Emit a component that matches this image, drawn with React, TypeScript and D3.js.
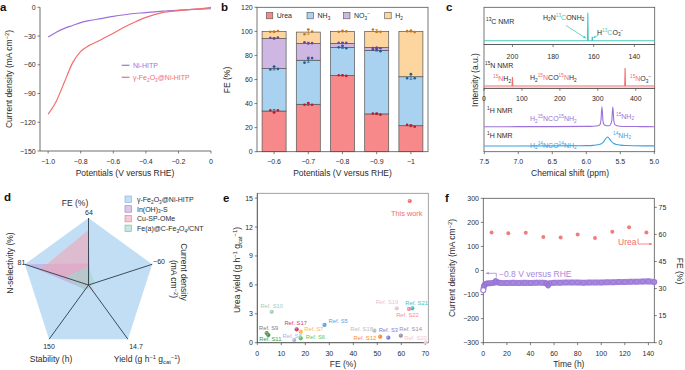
import React from 'react';
import * as d3 from 'd3';

const FONT = '"Liberation Sans", Arial, Helvetica, sans-serif';
const INK = '#2b2b2b';
const AXIS = '#4a4a4a';

// ---------- a: LSV curves
const lsvPotential = [-1.0, -0.95, -0.9, -0.85, -0.8, -0.75, -0.7, -0.6, -0.5, -0.4, -0.3, -0.2, -0.1, 0];
const lsvNiHitp = [-31, -26, -22, -19, -16, -14, -12.5, -9.5, -7, -5.5, -4, -3, -2.2, -1.5];
const lsvFe2o3 = [-111.5, -98, -78, -58, -46, -40, -36, -27, -18, -10.5, -5.5, -3.5, -2, 0];
const aXTicks = [-1.0, -0.8, -0.6, -0.4, -0.2, 0];
const aYTicks = [0, -30, -60, -90, -120, -150];

// ---------- b: FE stacked bars
const bPotentials = ['−0.6', '−0.7', '−0.8', '−0.9', '−1'];
const feUrea = [33.8, 39.4, 63.3, 31.4, 21.6];
const feNH3 = [35.3, 36.6, 23.3, 52.8, 40.7];
const feNO3 = [25, 13.9, 3.4, 2.4, 0];
const feH2 = [5.7, 9.5, 10, 13.4, 37.7];
const repUrea = [[34.5, 32.5, 34.5], [39, 40.5, 39], [63.5, 63.5, 63], [31.8, 31.6, 30.8], [22.3, 21.8, 20.7]];
const repNH3 = [[68.3, 70.8, 68.8], [74, 77.5, 77.8], [86.7, 88, 86], [85, 85.4, 83.5], [61, 64.5, 61]];
const repNO3 = [[94.7, 94, 94.8], [91, 90, 90.2], [90.5, 90.6, 90.4], [86.2, 86.6, 86], []];
const repH2 = [[99.6, 99.6, 100.3], [97.6, 101.5, 99.8], [99.6, 100.4, 100], [101.6, 99.6, 99.6], [100.2, 100.6, 99.4]];
const bYTicks = [0, 20, 40, 60, 80, 100, 120];

// ---------- c: NMR spectra
const c13Ppm = [214, 163.1, 162.9, 162.7, 160.9, 160.7, 160.5, 130];
const c13Int = [0, 0, 1, 0, 0, 0.14, 0, 0];
const n15Ppm = [0, 74, 75, 76, 371, 372, 373, 450];
const n15Int = [0, 0, 0.5, 0, 0, 1, 0, 0];
const h1Ppm15 = [7.5, 6.5, 6.0, 5.9, 5.83, 5.8, 5.785, 5.77, 5.755, 5.74, 5.71, 5.69, 5.665, 5.645, 5.625, 5.61, 5.595, 5.58, 5.55, 5.5, 5.4, 5.2, 5.0];
const h1Int15 = [0, 0.005, 0.015, 0.025, 0.05, 0.1, 0.3, 1, 0.3, 0.1, 0.05, 0.045, 0.05, 0.1, 0.3, 1, 0.3, 0.1, 0.05, 0.025, 0.012, 0.005, 0];
const h1Ppm14 = [7.5, 6.5, 6.2, 6.0, 5.9, 5.83, 5.78, 5.75, 5.72, 5.69, 5.66, 5.63, 5.6, 5.55, 5.5, 5.4, 5.3, 5.15, 5.0];
const h1Int14 = [0, 0.01, 0.02, 0.04, 0.07, 0.13, 0.25, 0.42, 0.75, 1, 0.8, 0.5, 0.3, 0.16, 0.1, 0.05, 0.03, 0.015, 0.01];
const c13Ticks = [200, 180, 160, 140];
const n15Ticks = [0, 100, 200, 300, 400];
const h1Ticks = [7.5, 7.0, 6.5, 6.0, 5.5, 5.0];

// ---------- d: radar (FE, current density, yield, stability, N-selectivity)
const radarMax = [64, 60, 14.7, 150, 81];
const radarHitp = [64, 60, 14.7, 150, 81];
const radarInOH = [20.5, 1.8, 0.7, 12, 81];
const radarCuSP = [52.5, 1.8, 2.2, 4.5, 61];
const radarFeCNT = [18, 6, 0.6, 15, 30];

// ---------- e: yield vs FE
const refNames = ['This work', 'Ref. S10', 'Ref. S17', 'Ref. S7', 'Ref. S5', 'Ref. S9', 'Ref. S11', 'Ref. S8', 'Ref. S6', 'Ref. S18', 'Ref. S3', 'Ref. S12', 'Ref. S14', 'Ref. S20', 'Ref. S19', 'Ref. S21', 'Ref. S22'];
const refFE = [63.5, 6.0, 16.4, 18.1, 28.0, 3.9, 4.6, 15.4, 18.1, 48.8, 54.6, 51.2, 59.8, 70.2, 58.1, 64.6, 63.2];
const refYield = [14.7, 3.2, 1.39, 1.14, 1.84, 1.0, 0.8, 0.28, 0.45, 1.25, 0.52, 0.62, 0.73, 0.02, 3.57, 3.57, 3.5];
const refColors = ['#f26b6b', '#a9ccb9', '#d33a68', '#ffb347', '#5aa2e3', '#8c7b6b', '#2e9e3a', '#a9b2e6', '#5cc85c', '#bdbdbd', '#7a7ee0', '#ff8a2a', '#9d8cab', '#f1c6d1', '#eac3d4', '#3cbfc8', '#f18e9d'];
const eXTicks = [0, 10, 20, 30, 40, 50, 60, 70];
const eYTicks = [0, 3, 6, 9, 12, 15];

// ---------- f: stability
const cdTime = [0, 0.5, 1, 2, 3, 5, 7.5, 10, 10.5, 12.5, 15, 20, 25, 30, 35, 40, 45, 50, 53, 54, 55, 56, 60, 65, 70, 75, 80, 85, 90, 95, 100, 105, 110, 115, 120, 125, 130, 135, 140, 145];
const cdValue = [-82, -66, -60, -56, -54, -53, -52, -50, -44, -50, -52, -52, -51, -52, -51, -52, -51, -51, -52, -56, -62, -53, -51, -51, -50, -50, -50, -51, -50, -50, -50, -49, -49, -48, -48, -47, -47, -46, -45, -48];
const feTime = [7, 21.2, 36, 50.9, 65.6, 80, 94.7, 109.4, 123.6, 138.3];
const feStab = [61.1, 60.6, 60.9, 58.5, 58.3, 59.9, 58.0, 61.5, 63.9, 61.1];
const fXTicks = [0, 20, 40, 60, 80, 100, 120, 140];
const fYTicks = [300, 200, 100, 0, -100, -200, -300];
const fFETicks = [0, 15, 30, 45, 60, 75];

// ---------- helpers
type Part = { t: string; s?: 'sub' | 'sup'; c?: string };
const n = (t: string, c?: string): Part => ({ t, c });
const lo = (t: string, c?: string): Part => ({ t, s: 'sub', c });
const hi = (t: string, c?: string): Part => ({ t, s: 'sup', c });

const minus = (v: number, d = 0) => (v < 0 ? '−' : '') + Math.abs(v).toFixed(d);

function Rich({ x = 0, y = 0, parts, size = 7, anchor = 'start', fill = INK, transform, weight }: any) {
  let cur = 0;
  return (
    <text x={x} y={y} fontSize={size} textAnchor={anchor} fill={fill} transform={transform} fontWeight={weight}>
      {parts.map((p: Part, i: number) => {
        const target = p.s === 'sub' ? size * 0.28 : p.s === 'sup' ? -size * 0.38 : 0;
        const dy = target - cur;
        cur = target;
        return (
          <tspan key={i} dy={dy} fontSize={p.s ? size * 0.68 : size} fill={p.c}>
            {p.t}
          </tspan>
        );
      })}
    </text>
  );
}

function XTicks({ scale, values, y, fmt, labelY, len = 2.5 }: any) {
  return (
    <g>
      {values.map((v: number) => (
        <g key={v}>
          <line x1={scale(v)} x2={scale(v)} y1={y} y2={y + len} stroke={AXIS} strokeWidth={0.7} />
          <text x={scale(v)} y={labelY} fontSize={7} textAnchor="middle" fill={INK}>
            {fmt(v)}
          </text>
        </g>
      ))}
    </g>
  );
}

function YTicks({ scale, values, x, fmt, side = 'left', len = 2.5 }: any) {
  const s = side === 'left' ? -1 : 1;
  return (
    <g>
      {values.map((v: number) => (
        <g key={v}>
          <line x1={x} x2={x + s * len} y1={scale(v)} y2={scale(v)} stroke={AXIS} strokeWidth={0.7} />
          <text x={x + s * (len + 1.8)} y={scale(v) + 2.5} fontSize={7} textAnchor={side === 'left' ? 'end' : 'start'} fill={INK}>
            {fmt(v)}
          </text>
        </g>
      ))}
    </g>
  );
}

function Arrow({ x1, y1, x2, y2, color, head = 3 }: any) {
  const a = Math.atan2(y2 - y1, x2 - x1);
  const p1 = [x2 - head * Math.cos(a - 0.45), y2 - head * Math.sin(a - 0.45)];
  const p2 = [x2 - head * Math.cos(a + 0.45), y2 - head * Math.sin(a + 0.45)];
  return (
    <g>
      <line x1={x1} y1={y1} x2={x2} y2={y2} stroke={color} strokeWidth={0.8} />
      <polygon points={`${x2},${y2} ${p1[0]},${p1[1]} ${p2[0]},${p2[1]}`} fill={color} />
    </g>
  );
}

const Letter = ({ x, y, t }: any) => (
  <text x={x} y={y} fontSize={11.5} fontWeight="bold" fill="#111">
    {t}
  </text>
);

// ---------- panel a
function PanelA() {
  const xA = d3.scaleLinear().domain([-1.05, 0]).range([40, 211]);
  const yA = d3.scaleLinear().domain([-150, 0]).range([151, 7.3]);
  const line = d3
    .line<number>()
    .x((_, i) => xA(lsvPotential[i]))
    .y((d) => yA(d))
    .curve(d3.curveMonotoneX);
  const purple = '#9b72d9';
  const red = '#f46d6d';
  return (
    <g>
      <Letter x={0} y={11} t="a" />
      <line x1={40} x2={40} y1={7.3} y2={151} stroke={AXIS} strokeWidth={0.8} />
      <line x1={40} x2={211} y1={151} y2={151} stroke={AXIS} strokeWidth={0.8} />
      <XTicks scale={xA} values={aXTicks} y={151} labelY={163.5} fmt={(v: number) => (v === 0 ? '0' : minus(v, 1))} />
      <YTicks scale={yA} values={aYTicks} x={40} fmt={(v: number) => minus(v)} />
      <path d={line(lsvNiHitp) || ''} fill="none" stroke={purple} strokeWidth={1.2} />
      <path d={line(lsvFe2o3) || ''} fill="none" stroke={red} strokeWidth={1.2} />
      <line x1={121.7} x2={129.5} y1={65.3} y2={65.3} stroke={purple} strokeWidth={1.2} />
      <text x={133} y={67.8} fontSize={7} fill={purple}>Ni-HITP</text>
      <line x1={121.7} x2={129.5} y1={77.3} y2={77.3} stroke={red} strokeWidth={1.2} />
      <Rich x={133} y={79.8} fill={red} parts={[n('γ-Fe'), lo('2'), n('O'), lo('3'), n('@Ni-HITP')]} />
      <Rich x={0} y={0} size={8.5} anchor="middle" transform="translate(12,79) rotate(-90)" parts={[n('Current density (mA cm'), hi('−2'), n(')')]} />
      <text x={125} y={176} fontSize={8.5} textAnchor="middle" fill={INK}>Potentials (V versus RHE)</text>
    </g>
  );
}

// ---------- panel b
function PanelB() {
  const xB = d3.scalePoint<string>().domain(bPotentials).range([257, 428]).padding(0.5);
  const yB = d3.scaleLinear().domain([0, 120]).range([151.7, 7.3]);
  const keys = ['urea', 'nh3', 'no3', 'h2'];
  const rows = bPotentials.map((p, i) => ({ p, urea: feUrea[i], nh3: feNH3[i], no3: feNO3[i], h2: feH2[i] }));
  const stacked = d3.stack<any>().keys(keys)(rows);
  const fills = ['#f7898b', '#a8d2f0', '#cfb7e3', '#fdd59f'];
  const dots = ['#b3202c', '#1f5d96', '#6e449a', '#c27a20'];
  const reps = [repUrea, repNH3, repNO3, repH2];
  const labels: Part[][] = [[n('Urea')], [n('NH'), lo('3')], [n('NO'), lo('3'), hi('−')], [n('H'), lo('2')]];
  const legX = [266.3, 307, 343.5, 384.7];
  const bw = 24;
  return (
    <g>
      <Letter x={221} y={11} t="b" />
      {stacked.map((layer, k) =>
        layer.map((seg, i) => (
          <rect
            key={`${k}-${i}`}
            x={(xB(bPotentials[i]) as number) - bw / 2}
            width={bw}
            y={yB(seg[1])}
            height={Math.max(0, yB(seg[0]) - yB(seg[1]))}
            fill={fills[k]}
            stroke="#555"
            strokeWidth={0.7}
          />
        ))
      )}
      {reps.map((rep, k) =>
        rep.map((vals, i) => {
          if (!vals.length) return null;
          const cx = xB(bPotentials[i]) as number;
          const m = d3.mean(vals) as number;
          const sd = d3.deviation(vals) as number;
          const c = dots[k];
          return (
            <g key={`${k}-${i}`}>
              <line x1={cx} x2={cx} y1={yB(m + sd)} y2={yB(m - sd)} stroke={c} strokeWidth={0.7} />
              <line x1={cx - 1.5} x2={cx + 1.5} y1={yB(m + sd)} y2={yB(m + sd)} stroke={c} strokeWidth={0.7} />
              <line x1={cx - 1.5} x2={cx + 1.5} y1={yB(m - sd)} y2={yB(m - sd)} stroke={c} strokeWidth={0.7} />
              {vals.map((v, j) => (
                <circle key={j} cx={cx + (j - 1) * 3.8} cy={yB(v)} r={1.3} fill={c} />
              ))}
            </g>
          );
        })
      )}
      <rect x={257} y={7.3} width={171} height={144.4} fill="none" stroke="#555" strokeWidth={0.8} />
      <YTicks scale={yB} values={bYTicks} x={257} fmt={(v: number) => String(v)} />
      {bPotentials.map((p) => (
        <g key={p}>
          <line x1={xB(p)} x2={xB(p)} y1={151.7} y2={154.2} stroke={AXIS} strokeWidth={0.7} />
          <text x={xB(p)} y={164} fontSize={7} textAnchor="middle" fill={INK}>{p}</text>
        </g>
      ))}
      {keys.map((k, i) => (
        <g key={k}>
          <rect x={legX[i]} y={12.3} width={6.5} height={6.5} fill={fills[i]} stroke="#555" strokeWidth={0.6} />
          <Rich x={legX[i] + 10.5} y={18} parts={labels[i]} />
        </g>
      ))}
      <text x={0} y={0} fontSize={8.5} textAnchor="middle" fill={INK} transform="translate(229.5,80) rotate(-90)">FE (%)</text>
      <text x={342.5} y={176} fontSize={8.5} textAnchor="middle" fill={INK}>Potentials (V versus RHE)</text>
    </g>
  );
}

// ---------- panel c
function PanelC() {
  const L = 484;
  const R = 654.7;
  const xC13 = d3.scaleLinear().domain([214, 130]).range([L, R]);
  const xN15 = d3.scaleLinear().domain([0, 450]).range([L, R]);
  const xH1 = d3.scaleLinear().domain([7.5, 5.0]).range([484.3, 654.3]);
  const spec = (xs: number[], ys: number[], sx: any, base: number, h: number, smooth: boolean) =>
    d3
      .line<number>()
      .x((_, i) => sx(xs[i]))
      .y((d) => base - d * h)
      .curve(smooth ? d3.curveMonotoneX : d3.curveLinear)(ys) || '';
  const teal = '#4cc6bf';
  const red = '#f46d6d';
  const purple = '#9b72d9';
  const blue = '#3e9fe0';
  const fmt1 = (v: number) => v.toFixed(1);
  return (
    <g>
      <Letter x={446} y={11} t="c" />
      <rect x={L} y={7.3} width={R - L} height={37.2} fill="none" stroke="#555" strokeWidth={0.8} />
      <rect x={L} y={44.5} width={R - L} height={43.8} fill="none" stroke="#555" strokeWidth={0.8} />
      <rect x={L} y={88.3} width={R - L} height={63.4} fill="none" stroke="#555" strokeWidth={0.8} />
      <path d={spec(c13Ppm, c13Int, xC13, 40.7, 28, false)} fill="none" stroke={teal} strokeWidth={1.1} />
      <path d={spec(n15Ppm, n15Int, xN15, 86, 18, false)} fill="none" stroke={red} strokeWidth={1.1} />
      <path d={spec(h1Ppm15, h1Int15, xH1, 126.7, 20, true)} fill="none" stroke={purple} strokeWidth={1.1} />
      <path d={spec(h1Ppm14, h1Int14, xH1, 146, 9, true)} fill="none" stroke={blue} strokeWidth={1.1} />
      <XTicks scale={xC13} values={c13Ticks} y={44.5} labelY={58.5} fmt={String} />
      <XTicks scale={xN15} values={n15Ticks} y={88.3} labelY={100.5} fmt={String} />
      <XTicks scale={xH1} values={h1Ticks} y={151.7} labelY={164} fmt={fmt1} />

      <Rich x={486} y={23.5} parts={[hi('13'), n('C NMR')]} />
      <Rich x={543} y={19.5} parts={[n('H'), lo('2'), n('N'), hi('13', teal), n('C', teal), n('ONH'), lo('2')]} />
      <Arrow x1={566} y1={25.5} x2={586} y2={38.3} color={teal} />
      <Rich x={597} y={34.5} parts={[n('H'), hi('13', teal), n('C', teal), n('O'), lo('3'), hi('−')]} />
      <Arrow x1={598.5} y1={35} x2={593.3} y2={37.8} color={teal} head={2.5} />

      <Rich x={485} y={67.5} parts={[hi('15'), n('N NMR')]} />
      <Rich x={493} y={81} parts={[hi('15', red), n('N', red), n('H'), lo('2')]} />
      <Rich x={530} y={80} parts={[n('H'), lo('2'), hi('15', red), n('N', red), n('CO'), hi('15', red), n('N', red), n('H'), lo('2')]} />
      <Rich x={630} y={81} parts={[hi('15', red), n('N', red), n('O'), lo('3'), hi('−')]} />

      <Rich x={487} y={112.5} parts={[hi('1'), n('H NMR')]} />
      <Rich x={530} y={121} fill={purple} parts={[n('H'), lo('2'), hi('15'), n('NCO'), hi('15'), n('NH'), lo('2')]} />
      <Rich x={616} y={118.5} fill={purple} parts={[hi('15'), n('NH'), lo('2')]} />
      <Rich x={487} y={137.5} parts={[hi('1'), n('H NMR')]} />
      <Rich x={530} y={147.5} fill={blue} parts={[n('H'), lo('2'), hi('14'), n('NCO'), hi('14'), n('NH'), lo('2')]} />
      <Rich x={613} y={137.5} fill={blue} parts={[hi('14'), n('NH'), lo('2')]} />

      <text x={0} y={0} fontSize={8.5} textAnchor="middle" fill={INK} transform="translate(478,80) rotate(-90)">Intensity (a.u.)</text>
      <text x={570} y={176} fontSize={8.5} textAnchor="middle" fill={INK}>Chemical shift (ppm)</text>
    </g>
  );
}

// ---------- panel d
function PanelD() {
  const cx = 88.5;
  const cy = 285;
  const rD = d3.scaleLinear().domain([0, 1]).range([0, 67]);
  const ang = (i: number) => (i * 2 * Math.PI) / 5;
  const radar = d3
    .lineRadial<number>()
    .angle((_, i) => ang(i))
    .radius((d, i) => rD(d / radarMax[i]))
    .curve(d3.curveLinearClosed);
  const vtx = (i: number, f = 1) => [cx + rD(f) * Math.sin(ang(i)), cy - rD(f) * Math.cos(ang(i))];
  const series = [
    { v: radarHitp, c: '#a8d0f0', o: 0.7, b: '#7fb0d8', name: [n('γ-Fe'), lo('2'), n('O'), lo('3'), n('@Ni-HITP')] },
    { v: radarInOH, c: '#c39ad8', o: 0.55, b: '#9a78b8', name: [n('In(OH)'), lo('3'), n('-S')] },
    { v: radarCuSP, c: '#f0a5b5', o: 0.6, b: '#d08894', name: [n('Cu-SP-OMe')] },
    { v: radarFeCNT, c: '#9fd9cc', o: 0.6, b: '#72b5a5', name: [n('Fe(a)@C-Fe'), lo('3'), n('O'), lo('4'), n('/CNT')] },
  ];
  const maxLabels = ['64', '−60', '14.7', '150', '81'];
  const maxPos = [
    [89, 214.5],
    [159, 264],
    [136, 348.5],
    [49, 348.5],
    [21.5, 264.5],
  ];
  return (
    <g>
      <Letter x={4} y={201} t="d" />
      <g transform={`translate(${cx},${cy})`}>
        {series.map((s, i) => (
          <path key={i} d={radar(s.v) || ''} fill={s.c} fillOpacity={s.o} stroke="none" />
        ))}
      </g>
      {radarMax.map((_, i) => {
        const [x, y] = vtx(i);
        return <line key={i} x1={cx} y1={cy} x2={x} y2={y} stroke="#2d3b4a" strokeWidth={0.9} />;
      })}
      {maxLabels.map((t, i) => (
        <text key={t} x={maxPos[i][0]} y={maxPos[i][1]} fontSize={7} textAnchor="middle" fill={INK}>{t}</text>
      ))}
      <text x={75} y={205.5} fontSize={8.5} textAnchor="middle" fill={INK}>FE (%)</text>
      <text x={51} y={362} fontSize={8.5} textAnchor="middle" fill={INK}>Stability (h)</text>
      <Rich x={147} y={362} size={8.5} anchor="middle" parts={[n('Yield (g h'), hi('−1'), n(' g'), lo('cat'), hi('−1'), n(')')]} />
      <text x={0} y={0} fontSize={8.5} textAnchor="middle" fill={INK} transform="translate(13,263) rotate(-90)">N-selectivity (%)</text>
      <text x={0} y={0} fontSize={8.5} textAnchor="middle" fill={INK} transform="translate(180.5,272) rotate(90)">Current density</text>
      <Rich x={0} y={0} size={8.5} anchor="middle" transform="translate(170.5,279) rotate(90)" parts={[n('(mA cm'), hi('−2'), n(')')]} />
      {series.map((s, i) => (
        <g key={i}>
          <rect x={125} y={196 + i * 9.7} width={6.5} height={6.5} fill={s.c} fillOpacity={s.o} stroke={s.b} strokeWidth={0.6} />
          <Rich x={137} y={201.8 + i * 9.7} parts={s.name} />
        </g>
      ))}
    </g>
  );
}

// ---------- panel e
function PanelE() {
  const xE = d3.scaleLinear().domain([0, 71.25]).range([257.3, 428.3]);
  const yE = d3.scaleLinear().domain([0, 15.5]).range([342.7, 193.3]);
  const offs: [number, number, string][] = [
    [-3, 14.5, 'middle'], [0, -3.5, 'middle'], [-1, -4.5, 'middle'], [3.5, -1, 'start'], [4, -1.5, 'start'],
    [2, -3, 'middle'], [2, 6, 'middle'], [-2, -2.5, 'middle'], [5, 1, 'start'], [-1.5, 0, 'end'],
    [0, -6, 'middle'], [-4, 3, 'end'], [-1.5, -4.5, 'start'], [1, -3, 'end'], [1.5, -4, 'end'],
    [-7, -3.5, 'start'], [-1.5, 8.5, 'middle'],
  ];
  return (
    <g>
      <Letter x={223} y={202} t="e" />
      <rect x={257.3} y={193.3} width={171} height={149.4} fill="none" stroke="#8a8a8a" strokeWidth={0.8} />
      <line x1={257.3} x2={428.3} y1={342.7} y2={342.7} stroke={AXIS} strokeWidth={0.8} />
      <line x1={257.3} x2={257.3} y1={193.3} y2={342.7} stroke={AXIS} strokeWidth={0.8} />
      <XTicks scale={xE} values={eXTicks} y={342.7} labelY={355.5} fmt={String} />
      <YTicks scale={yE} values={eYTicks} x={257.3} fmt={String} />
      {refNames.map((name, i) => {
        const x = xE(refFE[i]);
        const y = yE(refYield[i]);
        const [dx, dy, anchor] = offs[i];
        return (
          <g key={name}>
            <circle cx={x} cy={y} r={2.1} fill={refColors[i]} />
            <circle cx={x - 0.6} cy={y - 0.6} r={0.8} fill="#fff" fillOpacity={0.45} />
            <text x={x + dx} y={y + dy} fontSize={i === 0 ? 7.4 : 5.8} textAnchor={anchor} fill={refColors[i]}>{name}</text>
          </g>
        );
      })}
      <Rich x={0} y={0} size={8.5} anchor="middle" transform="translate(240,270) rotate(-90)" parts={[n('Urea yield (g h'), hi('−1'), n(' g'), lo('cat'), hi('−1'), n(')')]} />
      <text x={343} y={366.5} fontSize={8.5} textAnchor="middle" fill={INK}>FE (%)</text>
    </g>
  );
}

// ---------- panel f
function PanelF() {
  const xF = d3.scaleLinear().domain([0, 145]).range([483.3, 654.3]);
  const yL = d3.scaleLinear().domain([-300, 300]).range([342.7, 198.3]);
  const yR = d3.scaleLinear().domain([0, 80]).range([342.7, 198.3]);
  const purple = '#a888de';
  const line = d3
    .line<number>()
    .x((_, i) => xF(cdTime[i]))
    .y((d) => yL(d));
  const red = '#f46d6d';
  return (
    <g>
      <Letter x={445} y={202} t="f" />
      <rect x={483.3} y={198.3} width={171} height={144.4} fill="none" stroke="#555" strokeWidth={0.8} />
      <XTicks scale={xF} values={fXTicks} y={342.7} labelY={355.5} fmt={String} />
      <YTicks scale={yL} values={fYTicks} x={483.3} fmt={(v: number) => minus(v)} />
      <YTicks scale={yR} values={fFETicks} x={654.3} side="right" fmt={String} />
      <path d={line(cdValue) || ''} fill="none" stroke={purple} strokeWidth={6} strokeLinejoin="round" strokeLinecap="round" />
      {cdValue.map((v, i) => (
        <circle key={i} cx={xF(cdTime[i])} cy={yL(v)} r={2.4} fill="none" stroke="#8e6bd0" strokeWidth={0.6} />
      ))}
      <circle cx={xF(cdTime[0])} cy={yL(cdValue[0])} r={2.4} fill="#fff" stroke="#8e6bd0" strokeWidth={0.7} />
      {feStab.map((v, i) => (
        <circle key={i} cx={xF(feTime[i])} cy={yR(v)} r={2} fill={red} fillOpacity={0.9} />
      ))}
      <Arrow x1={496.3} y1={273.3} x2={486} y2={273.3} color={purple} head={3} />
      <line x1={496.3} x2={496.3} y1={273.3} y2={277.5} stroke={purple} strokeWidth={0.8} />
      <text x={499} y={277} fontSize={8.5} fill={purple}>−0.8 V versus RHE</text>
      <text x={618} y={244.5} fontSize={8.5} fill={red}>Urea</text>
      <line x1={638} x2={638} y1={238.5} y2={244} stroke={red} strokeWidth={0.8} />
      <Arrow x1={638} y1={244} x2={652} y2={244} color={red} head={3} />
      <Rich x={0} y={0} size={8.5} anchor="middle" transform="translate(455,268) rotate(-90)" parts={[n('Current density (mA cm'), hi('−2'), n(')')]} />
      <text x={0} y={0} fontSize={8.5} textAnchor="middle" fill={INK} transform="translate(677,271) rotate(90)">FE (%)</text>
      <text x={568.8} y={366.5} fontSize={8.5} textAnchor="middle" fill={INK}>Time (h)</text>
    </g>
  );
}

export default function App() {
  return (
    <svg width={685} height={370} style={{ position: 'absolute', left: 0, top: 0, fontFamily: FONT }}>
      <rect width={685} height={370} fill="#fff" />
      <PanelA />
      <PanelB />
      <PanelC />
      <PanelD />
      <PanelE />
      <PanelF />
    </svg>
  );
}
